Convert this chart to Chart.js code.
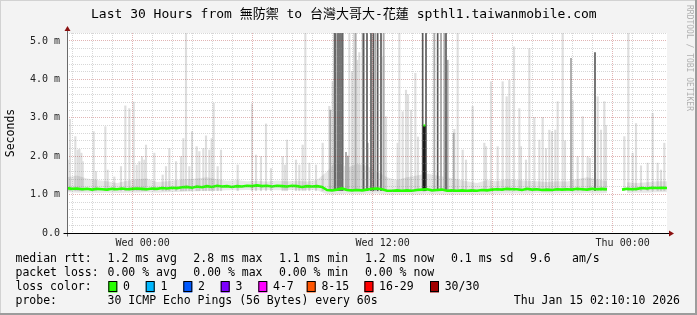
<!DOCTYPE html>
<html lang="zh-Hant">
<head>
<meta charset="UTF-8">
<title>SmokePing - Last 30 Hours</title>
<script src="https://cdn.jsdelivr.net/npm/chart.js@4.4.1/dist/chart.umd.min.js"></script>
<style>
    body { margin: 0; background: #f3f3f3; }
    canvas { display: block; }
</style>
</head>
<body>
<canvas id="smoke" width="697" height="315"></canvas>
<script>
// time is in minutes since the start of the window (Tue 20:13 -> Thu 02:13)
const timeSpan = 1800;
const xTickTimes = [227, 947, 1667];
const xTickLabels = ['Wed 00:00', 'Wed 12:00', 'Thu 00:00'];

// rtt values in milliseconds
const yMax = 5.208;
const yTickLabels = ['0.0', '1.0 m', '2.0 m', '3.0 m', '4.0 m', '5.0 m'];

// median rtt, one value every 15 minutes (null = no data)
const medianStep = 15;
const median = [
    1.17, 1.15, 1.16, 1.14, 1.15, 1.13, 1.15, 1.14, 1.13, 1.15,
    1.14, 1.16, 1.14, 1.15, 1.16, 1.15, 1.14, 1.16, 1.15, 1.17,
    1.16, 1.18, 1.17, 1.19, 1.2, 1.18, 1.21, 1.19, 1.22, 1.2,
    1.23, 1.21, 1.22, 1.2, 1.22, 1.21, 1.23, 1.22, 1.24, 1.22,
    1.23, 1.21, 1.23, 1.22, 1.21, 1.23, 1.22, 1.2, 1.22, 1.21,
    1.22, 1.2, 1.12, 1.11, 1.13, 1.16, 1.12, 1.11, 1.12, 1.11,
    1.13, 1.15, 1.16, 1.14, 1.1, 1.1, 1.11, 1.1, 1.11, 1.1,
    1.12, 1.13, 1.14, 1.11, 1.12, 1.13, 1.1, 1.11, 1.1, 1.11,
    1.1, 1.11, 1.1, 1.12, 1.11, 1.13, 1.14, 1.13, 1.15, 1.14,
    1.14, 1.12, 1.15, 1.13, 1.14, 1.12, 1.13, 1.12, 1.14, 1.13,
    1.14, 1.13, 1.15, 1.14, 1.13, 1.15, 1.14, 1.15, 1.14, null,
    null, 1.13, 1.15, 1.14, 1.15, 1.17, 1.16, 1.18, 1.17, 1.18,
    1.17
];

// single step where the median jumped
const peakTime = [1072];
const peakMedian = [2.8];

// smoke band around the median, one value every 30 minutes
const smokeStep = 30;
const smokeLow = [
    1.06, 1.05, 1.05, 1.04, 1.05, 1.04, 1.05, 1.05, 1.06, 1.05,
    1.06, 1.07, 1.08, 1.09, 1.1, 1.1, 1.11, 1.11, 1.12, 1.11,
    1.12, 1.11, 1.12, 1.11, 1.12, 1.11, 1.01, 1.0, 1.02, 1.01,
    1.02, 1.03, 1.0, 1.0, 1.01, 1.0, 1.02, 1.01, 1.0, 1.0,
    1.01, 1.0, 1.01, 1.02, 1.03, 1.03, 1.02, 1.04, 1.03, 1.03,
    1.04, 1.03, 1.04, 1.03, 1.04, null, 1.04, 1.05, 1.05, 1.06,
    1.06
];
const smokeHigh = [
    1.45, 1.5, 1.42, 1.38, 1.35, 1.3, 1.36, 1.4, 1.42, 1.33,
    1.35, 1.38, 1.4, 1.42, 1.45, 1.4, 1.36, 1.38, 1.35, 1.36,
    1.34, 1.37, 1.35, 1.36, 1.34, 1.38, 1.6, 1.9, 1.7, 1.8,
    1.75, 1.6, 1.45, 1.38, 1.45, 1.5, 1.55, 1.5, 1.45, 1.4,
    1.35, 1.3, 1.38, 1.35, 1.4, 1.38, 1.36, 1.35, 1.33, 1.35,
    1.34, 1.4, 1.45, 1.4, 1.35, null, 1.32, 1.3, 1.32, 1.35,
    1.35
];

// slowest pings (smoke spikes), base of every spike
const smokeBase = 1.1;
const lightSpikeTime = [
    2, 9, 25, 32, 37, 43, 47, 80, 87, 115, 122, 142, 162, 175, 187, 200, 209, 217, 225, 232,
    237, 262, 287, 297, 307, 327, 342, 349, 357, 367, 375, 389, 397, 409, 417, 427, 434, 440, 452, 462,
    512, 555, 567, 582, 597, 612, 647, 654, 660, 687, 697, 707, 715, 727, 747, 767, 787, 797, 847, 855,
    861, 872, 877, 949, 957, 992, 997, 1007, 1017, 1023, 1032, 1045, 1053, 1162, 1172, 1187, 1197, 1217, 1252, 1257,
    1272, 1292, 1307, 1319, 1327, 1341, 1357, 1362, 1377, 1387, 1402, 1417, 1427, 1437, 1447, 1455, 1465, 1472, 1487, 1494,
    1517, 1532, 1547, 1562, 1569, 1592, 1602, 1612, 1617, 1672, 1684, 1697, 1707, 1722, 1742, 1757, 1772, 1782, 1792
];
const lightSpikeTop = [
    1.9, 2.96, 2.51, 2.16, 2.18, 2.08, 1.86, 2.64, 1.6, 2.77, 1.64, 1.46, 1.73, 3.31, 3.24, 3.41, 1.77, 1.86, 1.99, 1.9,
    2.29, 2.08, 1.51, 1.73, 2.2, 1.86, 1.99, 2.46, 5.5, 1.73, 2.64, 2.25, 2.12, 2.2, 2.53, 2.16, 2.46, 3.38, 1.73, 2.16,
    1.77, 3.36, 2.03, 1.99, 2.84, 1.68, 1.99, 1.77, 2.42, 1.9, 1.77, 2.29, 5.5, 1.82, 1.77, 2.34, 3.3, 3.94, 5.5, 4.2,
    5.5, 4.5, 4.7, 4.59, 3.03, 2.34, 5.5, 3.16, 3.72, 3.6, 3.2, 4.16, 2.5, 2.7, 5.5, 2.16, 1.9, 3.3, 2.34, 2.25,
    3.94, 2.25, 3.94, 3.55, 3.98, 4.85, 3.24, 2.25, 1.9, 4.8, 3.01, 2.42, 3.01, 2.2, 2.68, 2.64, 2.68, 3.42, 5.5, 2.4,
    3.45, 1.99, 3.03, 1.99, 1.95, 3.55, 2.68, 3.42, 2.8, 2.51, 5.5, 2.08, 2.85, 1.75, 1.82, 3.12, 1.82, 1.64, 2.34
];
const midSpikeTime = [790, 802, 807, 828, 837, 843, 866, 887, 902, 925, 950, 1102, 1122, 1132, 1142, 1160, 1512];
const midSpikeTop = [3.2, 5.5, 5.5, 5.5, 2.1, 2.0, 5.5, 5.5, 2.34, 5.5, 5.5, 5.5, 5.5, 5.5, 4.5, 2.6, 4.55];
const darkSpikeTime = [804, 813, 819, 825, 890, 900, 912, 919, 932, 942, 1067, 1077, 1112, 1137, 1584];
const darkSpikeTop = [5.5, 5.5, 5.5, 5.5, 5.5, 5.5, 5.5, 5.5, 5.5, 5.5, 5.5, 5.5, 5.5, 5.5, 4.7];

// loss color legend
const lossLabels = ['0', '1', '2', '3', '4-7', '8-15', '16-29', '30/30'];
const lossColors = ['#26ff00', '#00b8ff', '#0059ff', '#7e00ff', '#ff00ff', '#ff5500', '#ff0000', '#a10000'];

const titleText = 'Last 30 Hours from 無防禦 to 台灣大哥大-花蓮 spthl1.taiwanmobile.com';
const mono = "'DejaVu Sans Mono', 'Noto Sans CJK TC', monospace";

// build chart data from the arrays
const medianData = median.map((v, i) => ({x: i * medianStep, y: v}));
const lowData = smokeLow.map((v, i) => ({x: i * smokeStep, y: v}));
const highData = smokeHigh.map((v, i) => ({x: i * smokeStep, y: v}));
const spikes = (times, tops) => times.map((t, i) => ({x: t, y: [smokeBase, tops[i]]}));

const hourTicks = [];
for (let t = xTickTimes[0] % 60; t <= timeSpan; t += 60) hourTicks.push(t);
const yTicks = [];
for (let k = 0; k <= 26; k++) yTicks.push(Math.round(k * 2) / 10);

const isMajorX = v => (v - xTickTimes[0]) % 360 === 0;
const minorGrid = 'rgba(140,140,140,0.35)';
const majorGrid = 'rgba(170,40,40,0.35)';

// background, frame, axes, title and the rrdtool text legend
const framePlugin = {
    id: 'frame',
    beforeDraw(chart) {
        const {ctx, width, height, chartArea: a} = chart;
        ctx.save();
        ctx.fillStyle = '#f3f3f3';
        ctx.fillRect(0, 0, width, height);
        ctx.fillStyle = '#d2d2d2';
        ctx.fillRect(0, 0, width, 1);
        ctx.fillRect(0, 0, 1, height);
        ctx.fillStyle = '#9c9c9c';
        ctx.fillRect(width - 2, 0, 2, height);
        ctx.fillRect(0, height - 2, width, 2);
        ctx.fillStyle = '#ffffff';
        ctx.fillRect(a.left, a.top, a.right - a.left, a.bottom - a.top);
        ctx.restore();
    },
    afterDraw(chart) {
        const {ctx, width, chartArea: a} = chart;
        const L = Math.round(a.left) + 0.5;
        const B = Math.round(a.bottom) + 0.5;
        ctx.save();
        // axes
        ctx.lineWidth = 1;
        ctx.strokeStyle = '#6a6a6a';
        ctx.beginPath();
        ctx.moveTo(L, B + 3);
        ctx.lineTo(L, a.top - 3);
        ctx.stroke();
        ctx.strokeStyle = '#000000';
        ctx.beginPath();
        ctx.moveTo(L - 4, B);
        ctx.lineTo(a.right + 3, B);
        ctx.stroke();
        ctx.fillStyle = '#8b1010';
        ctx.beginPath();
        ctx.moveTo(L, a.top - 7);
        ctx.lineTo(L - 3, a.top - 2);
        ctx.lineTo(L + 3, a.top - 2);
        ctx.fill();
        ctx.beginPath();
        ctx.moveTo(a.right + 7, B);
        ctx.lineTo(a.right + 2, B - 3);
        ctx.lineTo(a.right + 2, B + 3);
        ctx.fill();

        // title
        ctx.font = '13px ' + mono;
        ctx.fillStyle = '#000000';
        ctx.textBaseline = 'middle';
        ctx.fillText(titleText, 91, 15);

        // watermark
        ctx.save();
        ctx.translate(689, 5);
        ctx.rotate(Math.PI / 2);
        ctx.font = '8px ' + mono;
        ctx.fillStyle = '#b0b0b0';
        ctx.fillText('RRDTOOL / TOBI OETIKER', 0, 0);
        ctx.restore();

        // text legend under the graph
        ctx.font = '11.5px ' + mono;
        ctx.fillStyle = '#000000';
        const rows = [
            [259.3, [['median rtt:', 15.5], ['1.2 ms avg', 107.6], ['2.8 ms max', 193.3], ['1.1 ms min', 279],
                     ['1.2 ms now', 365], ['0.1 ms sd', 451], ['9.6', 530], ['am/s', 572]]],
            [273.3, [['packet loss:', 15.5], ['0.00 % avg', 107.6], ['0.00 % max', 193.3], ['0.00 % min', 279],
                     ['0.00 % now', 365]]],
            [287.3, [['loss color:', 15.5]]],
            [301.3, [['probe:', 15.5], ['30 ICMP Echo Pings (56 Bytes) every 60s', 107.6]]]
        ];
        rows.forEach(([y, parts]) => parts.forEach(([s, x]) => ctx.fillText(s, x, y)));
        const boxX = [108.3, 145.7, 183.3, 220.7, 258.3, 306.7, 364.4, 430];
        lossLabels.forEach((lab, i) => {
            ctx.fillStyle = lossColors[i];
            ctx.fillRect(boxX[i], 281.5, 9, 11);
            ctx.strokeStyle = '#000000';
            ctx.strokeRect(boxX[i] + 0.5, 281.5, 8, 10);
            ctx.fillStyle = '#000000';
            ctx.fillText(lab, boxX[i] + 14.7, 287.3);
        });
        ctx.textAlign = 'right';
        ctx.fillText('Thu Jan 15 02:10:10 2026', width - 17, 301.3);
        ctx.restore();
    }
};

const ctx = document.getElementById('smoke').getContext('2d');
new Chart(ctx, {
    type: 'line',
    data: {
        datasets: [
            {
                label: 'smoke low',
                data: lowData,
                borderWidth: 0,
                pointRadius: 0,
                fill: false,
                order: 6
            },
            {
                label: 'smoke high',
                data: highData,
                borderWidth: 0,
                pointRadius: 0,
                backgroundColor: 'rgba(0,0,0,0.09)',
                fill: 0,
                order: 5
            },
            {
                type: 'bar',
                label: 'light smoke',
                data: spikes(lightSpikeTime, lightSpikeTop),
                backgroundColor: '#dedede',
                barThickness: 1.5,
                grouped: false,
                order: 7
            },
            {
                type: 'bar',
                label: 'mid smoke',
                data: spikes(midSpikeTime, midSpikeTop),
                backgroundColor: '#ababab',
                barThickness: 1.2,
                grouped: false,
                order: 4
            },
            {
                type: 'bar',
                label: 'dark smoke',
                data: spikes(darkSpikeTime, darkSpikeTop),
                backgroundColor: '#5a5a5a',
                barThickness: 1,
                grouped: false,
                order: 3
            },
            {
                type: 'bar',
                label: 'peak smoke',
                data: spikes(peakTime, peakMedian),
                backgroundColor: '#1a1a1a',
                barThickness: 2,
                grouped: false,
                order: 2
            },
            {
                label: 'median rtt',
                data: medianData,
                borderColor: '#26ff00',
                borderWidth: 2.6,
                pointRadius: 0,
                tension: 0,
                spanGaps: false,
                fill: false,
                order: 1
            },
            {
                label: 'median peak',
                data: peakTime.map((t, i) => ({x: t, y: peakMedian[i]})),
                showLine: false,
                pointStyle: 'rect',
                pointRadius: 1.5,
                pointBackgroundColor: '#26ff00',
                pointBorderWidth: 0,
                order: 0
            }
        ]
    },
    options: {
        responsive: false,
        animation: false,
        events: [],
        layout: { padding: { left: 0, right: 30, top: 33, bottom: 62 } },
        plugins: {
            legend: { display: false },
            tooltip: { enabled: false },
            title: { display: false }
        },
        scales: {
            x: {
                type: 'linear',
                min: 0,
                max: timeSpan,
                offset: false,
                afterFit(scale) { scale.height = 20; },
                afterBuildTicks(scale) { scale.ticks = hourTicks.map(v => ({value: v})); },
                ticks: {
                    autoSkip: false,
                    maxRotation: 0,
                    padding: 4,
                    color: '#222222',
                    font: { family: mono, size: 10 },
                    callback(value) {
                        const i = xTickTimes.indexOf(value);
                        return i >= 0 ? xTickLabels[i] : '';
                    }
                },
                grid: {
                    drawTicks: false,
                    z: 1,
                    color: c => (c.tick && isMajorX(c.tick.value)) ? majorGrid : minorGrid
                },
                border: { display: false, dash: [1, 1] }
            },
            y: {
                min: 0,
                max: yMax,
                afterFit(scale) { scale.width = 67; },
                afterBuildTicks(scale) { scale.ticks = yTicks.map(v => ({value: v})); },
                title: {
                    display: true,
                    text: 'Seconds',
                    color: '#000000',
                    font: { family: mono, size: 11.5 },
                    padding: { top: 4, bottom: 0 }
                },
                ticks: {
                    autoSkip: false,
                    padding: 7,
                    color: '#222222',
                    font: { family: mono, size: 10 },
                    callback(value) {
                        return Number.isInteger(value) ? yTickLabels[value] : '';
                    }
                },
                grid: {
                    drawTicks: false,
                    z: 1,
                    color: c => (c.tick && Number.isInteger(c.tick.value)) ? majorGrid : minorGrid
                },
                border: { display: false, dash: [1, 1] }
            }
        }
    },
    plugins: [framePlugin]
});
</script>
</body>
</html>
